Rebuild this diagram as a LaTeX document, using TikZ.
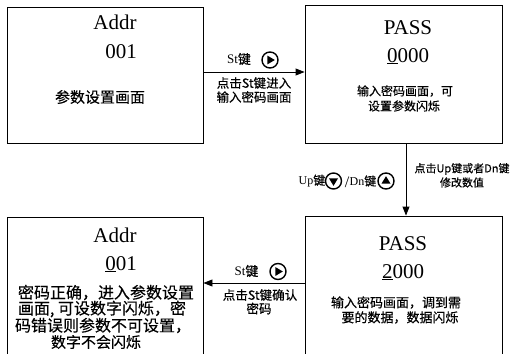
\documentclass[tikz,border=0pt]{standalone}
\usepackage{fontspec}
\setmainfont{Liberation Serif}
\newfontfamily\zhfont{Noto Sans CJK SC}[RawFeature={embolden=0.35}]
\usetikzlibrary{arrows.meta}
\begin{document}
\begin{tikzpicture}[x=1pt,y=-1pt,
  box/.style={draw, rectangle, line width=0.9pt, inner sep=0pt},
  big/.style={font=\fontsize{21}{21}\selectfont, inner sep=0pt, anchor=base},
  zhbig/.style={font=\zhfont\fontsize{15}{15}\selectfont, inner sep=0pt},
  zhmid/.style={font=\zhfont\fontsize{12.5}{12.5}\selectfont, inner sep=0pt},
  zhsmall/.style={font=\zhfont\fontsize{11}{11}\selectfont, inner sep=0pt},
  keylbl/.style={font=\fontsize{12}{12}\selectfont, inner sep=0pt},
  stlbl/.style={font=\fontsize{13}{13}\selectfont, inner sep=0pt},
  conn/.style={line width=0.9pt, -{Triangle[length=9pt,width=7pt]}},
  btn/.style={draw, circle, line width=1.4pt, minimum size=16pt, inner sep=0pt},
  playbtn/.style={btn, path picture={\fill (path picture bounding box.center) ++(-2.6,-4.4) -- ++(0,8.8) -- ++(7.4,-4.4) -- cycle;}},
  downbtn/.style={btn, path picture={\fill (path picture bounding box.center) ++(-4.5,-2.6) -- ++(9,0) -- ++(-4.5,7.4) -- cycle;}},
  upbtn/.style={btn, path picture={\fill (path picture bounding box.center) ++(-4.5,2.6) -- ++(9,0) -- ++(-4.5,-7.4) -- cycle;}}
]
\useasboundingbox (0,0) rectangle (513,353);
\clip (0,0) rectangle (513,353);

% boxes
\node[box, minimum width=196pt, minimum height=136pt] (b1) at (105,75) {};
\node[box, minimum width=197pt, minimum height=138pt] (b2) at (403.5,74) {};
\node[box, minimum width=196pt, minimum height=146pt] (b3) at (105,290) {};
\node[box, minimum width=197pt, minimum height=148pt] (b4) at (403.5,290) {};

% box 1 texts
\node[big] (t1a) at (115,30) {Addr};
\node[big] (t1b) at (121,59) {001};
\node[zhbig] (t1c) at (100,97) {参数设置画面};

% box 2 texts
\node[big] (t2a) at (408,35) {PASS};
\node[big] (t2b) at (408,62) {\underline{0}000};
\node[zhmid, font=\zhfont\fontsize{12}{12}\selectfont] (t2c) at (405,91) {输入密码画面，可};
\node[zhmid, font=\zhfont\fontsize{12}{12}\selectfont] (t2d) at (404,106) {设置参数闪烁};

% box 3 texts
\node[big] (t3a) at (115,242) {Addr};
\node[big] (t3b) at (121,270) {\underline{0}01};
\node[zhbig, font=\zhfont\fontsize{16}{16}\selectfont] (t3c) at (106,292.5) {密码正确，进入参数设置};
\node[zhbig, font=\zhfont\fontsize{16}{16}\selectfont] (t3d) at (102,309) {画面, 可设数字闪烁，密};
\node[zhbig, font=\zhfont\fontsize{16}{16}\selectfont] (t3e) at (103,325.5) {码错误则参数不可设置，};
\node[zhbig, font=\zhfont\fontsize{15}{15}\selectfont] (t3f) at (96,342) {数字不会闪烁};

% box 4 texts
\node[big] (t4a) at (403,250) {PASS};
\node[big] (t4b) at (403,278) {\underline{2}000};
\node[zhmid, font=\zhfont\fontsize{13}{13}\selectfont] (t4c) at (396,302.5) {输入密码画面，调到需};
\node[zhmid, font=\zhfont\fontsize{13}{13}\selectfont] (t4d) at (400,317.5) {要的数据，数据闪烁};

% connectors
\draw[conn] ([yshift=3pt]b1.east) -- ([yshift=3pt]b1.east -| b2.west);
\draw[conn] ([xshift=2.5pt]b2.south) -- ([xshift=2.5pt]b2.south |- b4.north);
\draw[conn] ([yshift=7pt]b4.west) -- ([yshift=7pt]b4.west -| b3.east);

% top arrow labels
\node[stlbl] (k1) at (239,59) {St{\zhfont 键}};
\node[playbtn] (p1) at (270,60) {};
\node[zhmid] (l1a) at (254,83) {点击St键进入};
\node[zhmid] (l1b) at (254,97) {输入密码画面};

% vertical arrow labels
\node[zhsmall] (l2a) at (462,169) {点击Up键或者Dn键};
\node[zhsmall] (l2b) at (462,182.5) {修改数值};
\node[keylbl] (k2) at (312,181) {Up{\zhfont 键}};
\node[downbtn] (p2) at (333.5,181) {};
\node[font=\fontsize{16}{16}\selectfont, inner sep=0pt] (sl) at (347,182) {/};
\node[keylbl] (k3) at (363,181) {Dn{\zhfont 键}};
\node[upbtn] (p3) at (386,181) {};

% bottom arrow labels
\node[stlbl] (k4) at (246.5,271) {St{\zhfont 键}};
\node[playbtn] (p4) at (278,271.5) {};
\node[zhmid] (l3a) at (260,295) {点击St键确认};
\node[zhmid] (l3b) at (259,308.5) {密码};
\end{tikzpicture}
\end{document}
